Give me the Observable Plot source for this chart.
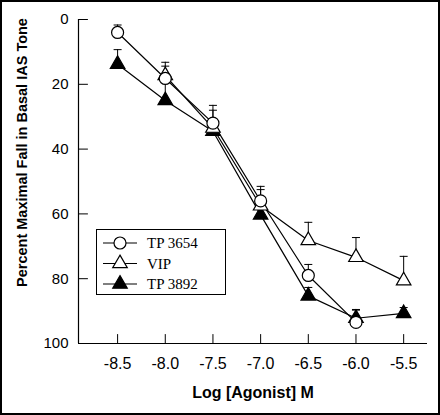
<!DOCTYPE html>
<html>
<head>
<meta charset="utf-8">
<script src="https://cdn.jsdelivr.net/npm/d3@7"></script>
<script src="https://cdn.jsdelivr.net/npm/@observablehq/plot@0.6"></script>
<style>
  html, body { margin: 0; padding: 0; background: #fff; }
  #wrap { position: relative; width: 440px; height: 415px; overflow: hidden; background: #fff; }
  #wrap svg.plot { position: absolute; left: 0; top: 0; }
  #frameBorder { position: absolute; left: 0; top: 0; width: 440px; height: 415px; box-sizing: border-box; border: 2px solid #000; pointer-events: none; }
  #legend { position: absolute; left: 96px; top: 229px; }
</style>
</head>
<body>
<div id="wrap"><div id="frameBorder"></div></div>
<script>
// ---- data ----
const xTicks = [-8.5, -8.0, -7.5, -7.0, -6.5, -6.0, -5.5];
const yTicks = [0, 20, 40, 60, 80, 100];
const xDomain = [-8.91, -5.25];
const yDomain = [0, 100];

const seriesNames = ["TP 3654", "VIP", "TP 3892"];

const tp3654X    = [-8.5, -8.0, -7.5, -7.0, -6.5, -6.0];
const tp3654Mean = [4.0, 18.2, 32.0, 56.0, 79.0, 93.5];
const tp3654Err  = [2.3, 3.8, 4.0, 4.5, 3.4, 4.0];

const vipX    = [-8.0, -7.5, -7.0, -6.5, -6.0, -5.5];
const vipMean = [17.3, 33.5, 57.5, 68.2, 73.4, 80.6];
const vipErr  = [4.1, 7.0, 5.0, 5.6, 6.1, 7.5];

const tp3892X    = [-8.5, -8.0, -7.5, -7.0, -6.5, -6.0, -5.5];
const tp3892Mean = [13.8, 25.0, 34.5, 60.3, 85.3, 92.2, 90.7];
const tp3892Err  = [4.5, 7.0, 3.0, 3.0, 2.6, 2.5, 1.8];

const xTitle = "Log [Agonist] M";
const yTitle = "Percent Maximal Fall in Basal IAS Tone";

// ---- build tables ----
function table(name, xs, ms, es) {
  return xs.map((x, i) => ({series: name, x, y: ms[i], err: es[i]}));
}
const s1 = table(seriesNames[0], tp3654X, tp3654Mean, tp3654Err);
const s2 = table(seriesNames[1], vipX, vipMean, vipErr);
const s3 = table(seriesNames[2], tp3892X, tp3892Mean, tp3892Err);
const all = [...s1, ...s2, ...s3];

const tickShape = {draw(ctx, l) { ctx.moveTo(0, 0); ctx.lineTo(0, -l); }};
const capSymbol = {draw(ctx) { ctx.moveTo(-4, 0); ctx.lineTo(4, 0); }};

const lineStyle = {stroke: "#000", strokeWidth: 1.2};

const chart = Plot.plot({
  width: 440,
  height: 415,
  marginLeft: 78,
  marginRight: 13,
  marginTop: 19,
  marginBottom: 72,
  style: {fontFamily: "'Liberation Sans', Arial, Helvetica, sans-serif", background: "transparent", color: "#000"},
  x: {domain: xDomain},
  y: {domain: yDomain, reverse: true},
  marks: [
    // axis lines
    Plot.ruleX([xDomain[0]], {y1: yDomain[0], y2: yDomain[1], stroke: "#000", strokeWidth: 1.2}),
    Plot.ruleY([yDomain[1]], {x1: xDomain[0], x2: xDomain[1], stroke: "#000", strokeWidth: 1.2}),
    // inward ticks
    Plot.vector(yTicks, {x: () => xDomain[0], y: d => d, length: 9, rotate: 90, anchor: "start", shape: tickShape, stroke: "#000", strokeWidth: 1}),
    Plot.vector(xTicks, {x: d => d, y: () => yDomain[1], length: 9, rotate: 0, anchor: "start", shape: tickShape, stroke: "#000", strokeWidth: 1}),
    // tick labels
    Plot.axisY({ticks: yTicks, tickSize: 0, tickPadding: 10, fontSize: 15, label: null, tickFormat: d => String(d)}),
    Plot.axisX({ticks: xTicks, tickSize: 0, tickPadding: 14, fontSize: 16, label: null, tickFormat: d => d.toFixed(1)}),
    // titles
    Plot.text([xTitle], {frameAnchor: "bottom", lineAnchor: "top", dy: 43, fontSize: 16, fontWeight: "bold", fill: "#000"}),
    Plot.text([yTitle], {frameAnchor: "left", textAnchor: "middle", lineAnchor: "middle", rotate: -90, dx: -56.5, dy: -29, fontSize: 14.5, fontWeight: "bold", fill: "#000"}),
    // lines
    Plot.line(s1, {x: "x", y: "y", ...lineStyle}),
    Plot.line(s2, {x: "x", y: "y", ...lineStyle}),
    Plot.line(s3, {x: "x", y: "y", ...lineStyle}),
    // error bars (upward)
    Plot.ruleX(all, {x: "x", y1: "y", y2: d => d.y - d.err, stroke: "#000", strokeWidth: 1}),
    Plot.dot(all, {x: "x", y: d => d.y - d.err, symbol: capSymbol, stroke: "#000", fill: "none", strokeWidth: 1}),
    // markers
    Plot.dot(s3, {x: "x", y: "y", symbol: "triangle", r: 5.4, fill: "#000", stroke: "#000", strokeWidth: 1.2}),
    Plot.dot(s2, {x: "x", y: "y", symbol: "triangle", r: 5.4, fill: "#fff", stroke: "#000", strokeWidth: 1.2}),
    Plot.dot(s1, {x: "x", y: "y", symbol: "circle", r: 6, fill: "#fff", stroke: "#000", strokeWidth: 1.2})
  ]
});
chart.classList.add("plot");
const wrap = document.getElementById("wrap");
wrap.insertBefore(chart, document.getElementById("frameBorder"));

// ---- legend ----
const legendSymbols = [
  {name: seriesNames[0], symbol: d3.symbolCircle, r: 6, fill: "#fff"},
  {name: seriesNames[1], symbol: d3.symbolTriangle, r: 5.4, fill: "#fff"},
  {name: seriesNames[2], symbol: d3.symbolTriangle, r: 5.4, fill: "#000"}
];
const lg = d3.select("#wrap").append("svg")
  .attr("id", "legend")
  .attr("width", 130).attr("height", 66);
lg.append("rect").attr("x", 0.5).attr("y", 0.5).attr("width", 129).attr("height", 65)
  .attr("fill", "#fff").attr("stroke", "#000").attr("stroke-width", 1);
const rows = lg.selectAll("g.row").data(legendSymbols).join("g")
  .attr("class", "row")
  .attr("transform", (d, i) => `translate(0,${14 + i * 20.5})`);
rows.append("line").attr("x1", 7).attr("x2", 41).attr("y1", 0).attr("y2", 0)
  .attr("stroke", "#000").attr("stroke-width", 1.2);
rows.append("path")
  .attr("transform", "translate(24,0)")
  .attr("d", d => d3.symbol(d.symbol, Math.PI * d.r * d.r)())
  .attr("fill", d => d.fill).attr("stroke", "#000").attr("stroke-width", 1.2);
rows.append("text").attr("x", 51).attr("y", 0).attr("dy", "0.35em")
  .attr("font-family", "'Liberation Serif', 'Times New Roman', serif")
  .attr("font-size", 15).attr("fill", "#000")
  .text(d => d.name);
</script>
</body>
</html>
